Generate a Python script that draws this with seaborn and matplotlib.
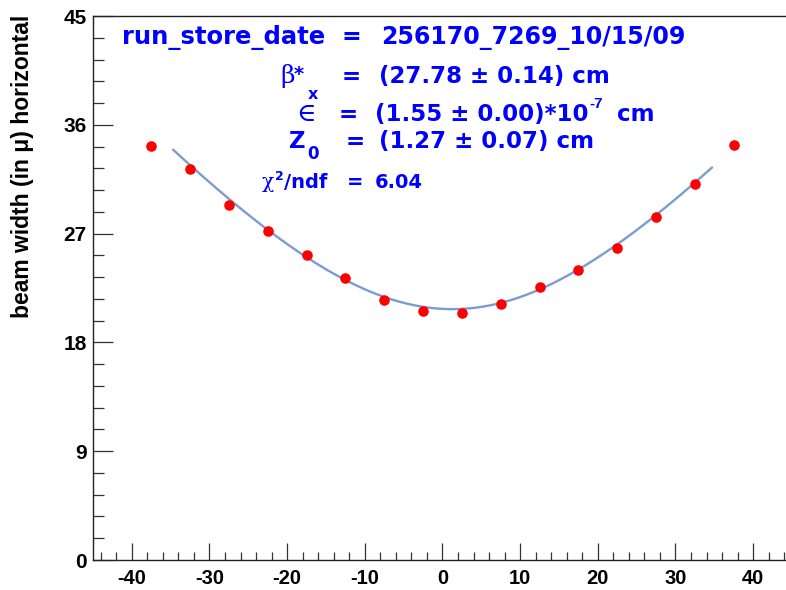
import numpy as np
import pandas as pd
import matplotlib
matplotlib.use("Agg")
import matplotlib.pyplot as plt
import seaborn as sns
from matplotlib.ticker import FixedLocator, MultipleLocator

# ---- data ----
z_cm = [-37.5, -32.5, -27.5, -22.5, -17.5, -12.5, -7.5, -2.5,
        2.5, 7.5, 12.5, 17.5, 22.5, 27.5, 32.5, 37.5]
width_um = [34.21, 32.35, 29.40, 27.25, 25.19, 23.34, 21.47, 20.56,
            20.42, 21.20, 22.57, 24.00, 25.85, 28.35, 31.11, 34.33]
x_ticks = [-40, -30, -20, -10, 0, 10, 20, 30, 40]
y_ticks = [0, 9, 18, 27, 36, 45]

# fit parameters shown on the chart
beta_star_cm = 27.78
emittance_cm = 1.55e-7
z0_cm = 1.27
fit_range = [-34.7, 34.7]

run_label = "256170_7269_10/15/09"
chi2_ndf = "6.04"

# fit curve: sigma(z) = sqrt(eps*beta*(1+((z-z0)/beta)^2)), in microns
z_fit = np.linspace(fit_range[0], fit_range[1], 300)
sigma_fit = np.sqrt(emittance_cm * beta_star_cm *
                    (1 + ((z_fit - z0_cm) / beta_star_cm) ** 2)) * 1e4

pts = pd.DataFrame({"z": z_cm, "w": width_um})
fit = pd.DataFrame({"z": z_fit, "w": sigma_fit})

sns.set_theme(style="white")
plt.rcParams["font.family"] = ["Liberation Sans", "DejaVu Sans"]

W, H = 786, 590
fig = plt.figure(figsize=(W / 100, H / 100), dpi=100)
fig.patch.set_facecolor("white")
ax = fig.add_axes([93 / W, 30 / H, (792 - 93) / W, 544 / H])
ax.set_facecolor("white")

sns.lineplot(data=fit, x="z", y="w", ax=ax, color="#7e9bd0", linewidth=1.7,
             sort=False, legend=False)
sns.scatterplot(data=pts, x="z", y="w", ax=ax, color="#ff0000", s=58,
                linewidth=0, legend=False, zorder=3)

ax.set_xlim(-45, 45)
ax.set_ylim(0, 45)
ax.set_xlabel("")
ax.set_ylabel("")

ax.xaxis.set_major_locator(FixedLocator(x_ticks))
ax.yaxis.set_major_locator(FixedLocator(y_ticks))
ax.xaxis.set_minor_locator(MultipleLocator(2))
ax.yaxis.set_minor_locator(MultipleLocator(1.8))
ax.set_xticklabels([str(t) for t in x_ticks])
ax.set_yticklabels([str(t) for t in y_ticks])

ax.tick_params(axis="x", which="major", direction="in", length=12.5, width=0.9,
               color="#333333", bottom=True, top=False, pad=6.5)
ax.tick_params(axis="x", which="minor", direction="in", length=6, width=0.9,
               color="#333333", bottom=True, top=False)
ax.tick_params(axis="y", which="major", direction="in", length=14.5, width=0.9,
               color="#333333", left=True, right=False, pad=4.5)
ax.tick_params(axis="y", which="minor", direction="in", length=8, width=0.9,
               color="#333333", left=True, right=False)
for lab in ax.get_xticklabels():
    lab.set_fontsize(14.5)
    lab.set_fontweight("bold")
    lab.set_color("black")
for lab in ax.get_yticklabels():
    lab.set_fontsize(15)
    lab.set_fontweight("bold")
    lab.set_color("black")

for side in ["left", "bottom", "top", "right"]:
    ax.spines[side].set_visible(True)
    ax.spines[side].set_color("#222222")
    ax.spines[side].set_linewidth(1.0)

BLUE = "#0000ff"
SANS = ["DejaVu Sans"]
SERIF = ["DejaVu Serif", "Liberation Serif"]
renderer = fig.canvas.get_renderer()


def put(xpx, ypx, s, size, weight="bold", family=SANS, ha="left", va="baseline"):
    t = fig.text(xpx / W, 1 - ypx / H, s, fontsize=size, fontweight=weight,
                 color=BLUE, ha=ha, va=va, family=family)
    return t


def right_px(t):
    return t.get_window_extent(renderer=renderer).x1


MAIN = 16.5

# line 1
put(121.5, 44.3, "run_store_date", 17.5)
put(341.5, 44.3, "=", 17)
put(381.5, 44.3, run_label, 17)

# line 2: beta*
put(280.5, 82.7, "\u03b2", 18, weight="normal", family=SERIF)
put(294, 80, "*", 14)
put(342, 82.7, "=", MAIN)
put(379, 82.7, "(27.78 \u00b1 0.14) cm", MAIN)

# line 3: emittance
put(296, 121, "\u2208", 19, weight="normal", family=SERIF)
put(312.5, 99, "x", 11.5, ha="center")
put(339, 121, "=", MAIN)
t3 = put(375, 121, "(1.55 \u00b1 0.00)*10", MAIN)
put(right_px(t3) + 1, 107.5, "-7", 11, family=["Liberation Sans"])
put(655, 121, "cm", MAIN, ha="right")

# line 4: Z0
put(289.5, 147.8, "Z", MAIN)
put(307.5, 159, "0", 12)
put(346, 147.8, "=", MAIN)
put(379, 147.8, "(1.27 \u00b1 0.07) cm", MAIN)

# line 5: chi2/ndf
t_chi = put(262, 188.3, "\u03c7", 14.5, weight="normal", family=SERIF)
t_sq = put(right_px(t_chi) + 0.3, 180, "2", 9)
put(right_px(t_sq) + 0.5, 188.3, "/ndf", 14)
put(346.5, 188.3, "=", 14)
put(375, 188.3, chi2_ndf, 14)

# y axis title
fig.text(22.5 / W, 1 - 15 / H, "beam width (in \u03bc) horizontal", rotation=90,
         fontsize=16.5, fontweight="bold", color="black", ha="center", va="top")

fig.savefig("out.png", dpi=100, facecolor="white")
